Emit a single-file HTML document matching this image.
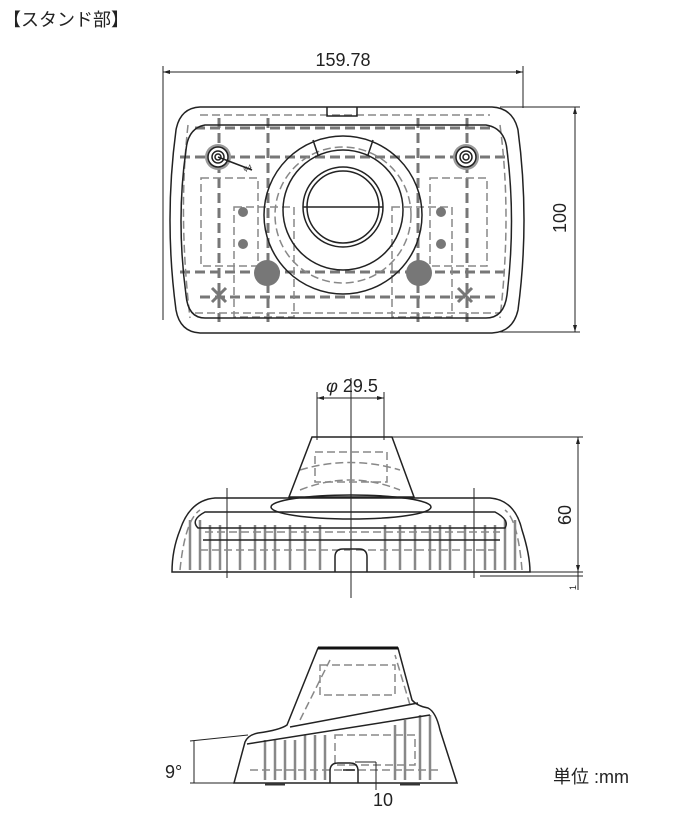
<!DOCTYPE html>
<html><head><meta charset="utf-8"><style>
html,body{margin:0;padding:0;background:#fff;}
svg{display:block;}
text{font-family:"Liberation Sans","Noto Sans CJK JP",sans-serif;fill:#222;}
</style></head><body>
<svg width="679" height="817" viewBox="0 0 679 817" xmlns="http://www.w3.org/2000/svg">
<text x="3" y="26" font-size="18">【スタンド部】</text>

<!-- ===== TOP VIEW ===== -->
<g fill="none" stroke="#222" stroke-width="1">
  <line x1="163" y1="66" x2="163" y2="320"/>
  <line x1="523" y1="66" x2="523" y2="108"/>
  <line x1="163" y1="72" x2="523" y2="72"/>
  <line x1="500" y1="107" x2="580" y2="107"/>
  <line x1="500" y1="332" x2="580" y2="332"/>
  <line x1="575" y1="107" x2="575" y2="332"/>
</g>
<path d="M163 72 l7 -2 v4z M523 72 l-7 -2 v4z M575 107 l-2 7 h4z M575 332 l-2 -7 h4z" fill="#222"/>
<text x="343" y="66" font-size="18" text-anchor="middle">159.78</text>
<text x="0" y="0" font-size="18" text-anchor="middle" transform="translate(566 218) rotate(-90)">100</text>

<g fill="none" stroke="#777" stroke-width="3" stroke-dasharray="10 5">
  <line x1="180" y1="157" x2="508" y2="157"/>
  <line x1="180" y1="272" x2="508" y2="272"/>
  <line x1="200" y1="297" x2="500" y2="297"/>
  <line x1="195" y1="128" x2="495" y2="128"/>
  <line x1="268" y1="118" x2="268" y2="322"/>
  <line x1="418" y1="118" x2="418" y2="322"/>
  <line x1="219" y1="118" x2="219" y2="322"/>
  <line x1="467" y1="118" x2="467" y2="322"/>
</g>
<g fill="none" stroke="#888" stroke-width="1.5" stroke-dasharray="8 4">
  <rect x="201" y="178" width="57" height="88"/>
  <rect x="430" y="178" width="57" height="88"/>
  <rect x="234" y="207" width="60" height="110"/>
  <rect x="392" y="207" width="60" height="110"/>
  <path d="M188 125 Q178 215 190 318 M500 125 Q512 215 500 318"/>
  <line x1="195" y1="313" x2="500" y2="313"/>
  <line x1="200" y1="115" x2="490" y2="115"/>
  <circle cx="343" cy="215" r="68"/>
</g>
<g fill="#777">
  <circle cx="267" cy="273" r="13"/><circle cx="419" cy="273" r="13"/>
  <circle cx="243" cy="212" r="5"/><circle cx="243" cy="244" r="5"/>
  <circle cx="441" cy="212" r="5"/><circle cx="441" cy="244" r="5"/>
  <circle cx="218" cy="157" r="13" fill="#999"/><circle cx="466" cy="157" r="13" fill="#999"/>
</g>
<g stroke="#777" stroke-width="3"><path d="M212 288 l14 14 M226 288 l-14 14 M458 288 l14 14 M472 288 l-14 14"/></g>
<g fill="none" stroke="#222" stroke-width="1.5">
  <path d="M200 107 H492 Q513 108 518 130 Q530 220 518 310 Q513 332 492 333 H200 Q180 332 176 310 Q164 220 176 130 Q180 108 200 107Z"/>
  <path d="M205 125 H486 Q505 128 507 150 Q516 220 507 295 Q504 318 486 318 H205 Q188 318 186 295 Q176 220 186 150 Q188 128 205 125Z"/>
  <path d="M327 107 v9 h30 v-9"/>
  <circle cx="343" cy="215" r="79"/>
  <circle cx="343" cy="210" r="60"/>
  <circle cx="343" cy="207" r="40"/>
  <circle cx="343" cy="207" r="36"/>
  <line x1="303" y1="207" x2="383" y2="207"/>
  <path d="M313 140 l5 15 M373 140 l-5 15"/>
  <circle cx="218" cy="157" r="10" fill="#fff"/><circle cx="218" cy="157" r="6"/><circle cx="218" cy="157" r="3"/>
  <circle cx="466" cy="157" r="10" fill="#fff"/><circle cx="466" cy="157" r="6"/><circle cx="466" cy="157" r="3"/>
  <line x1="218" y1="157" x2="252" y2="170"/>
</g>
<text x="244" y="171" font-size="7" transform="rotate(-15 244 171)">φ4</text>

<!-- ===== FRONT VIEW ===== -->
<g fill="none" stroke="#222" stroke-width="1">
  <line x1="351" y1="378" x2="351" y2="598"/>
  <line x1="317" y1="392" x2="317" y2="440"/>
  <line x1="384" y1="392" x2="384" y2="440"/>
  <line x1="317" y1="398" x2="384" y2="398"/>
  <line x1="392" y1="437" x2="583" y2="437"/>
  <line x1="480" y1="572" x2="583" y2="572"/>
  <line x1="480" y1="576" x2="583" y2="576"/>
  <line x1="578" y1="437" x2="578" y2="590"/>
  <line x1="227" y1="488" x2="227" y2="578"/>
  <line x1="474" y1="488" x2="474" y2="578"/>
</g>
<path d="M317 398 l7 -2 v4z M384 398 l-7 -2 v4z M578 437 l-2 7 h4z M578 572 l-2 -7 h4z" fill="#222"/>
<text x="352" y="392" font-size="18" text-anchor="middle"><tspan font-style="italic">φ</tspan> 29.5</text>
<text x="0" y="0" font-size="18" text-anchor="middle" transform="translate(571 515) rotate(-90)">60</text>
<text x="0" y="0" font-size="9" transform="translate(576 590) rotate(-90)">1</text>
<g fill="none" stroke="#888" stroke-width="1.5" stroke-dasharray="8 4">
  <rect x="315" y="452" width="72" height="30"/>
  <line x1="205" y1="532" x2="500" y2="532"/>
  <line x1="200" y1="550" x2="500" y2="550"/>
  <path d="M180 570 Q185 520 200 510 M522 570 Q518 520 505 510"/>
  <path d="M300 490 Q350 470 400 490"/>
  <path d="M300 470 Q350 455 400 470"/>
</g>
<g stroke="#888" stroke-width="2.5">
  <path d="M190 520v50M200 520v50M210 525v45M220 525v45M240 525v45M255 525v45M265 525v45M275 525v45M290 525v45M305 525v45M320 525v45M385 525v45M400 525v45M415 525v45M430 525v45M440 525v45M450 525v45M465 525v45M485 525v45M495 525v45M505 520v50M515 520v50"/>
</g>
<g fill="none" stroke="#222" stroke-width="1.5">
  <path d="M312 437 H392 L414 497 H289 Z"/>
  <path d="M215 498 H490 Q515 500 522 530 Q530 555 530 572 H172 Q172 550 180 530 Q190 500 215 498Z"/>
  <path d="M198 528 Q190 520 205 512 H495 Q510 520 505 528 Z"/>
  <path d="M203 540 H500"/>
  <ellipse cx="351" cy="507" rx="80" ry="12"/>
  <path d="M335 572 v-15 q0 -8 8 -8 h16 q8 0 8 8 v15"/>
</g>

<!-- ===== SIDE VIEW ===== -->
<g fill="none" stroke="#888" stroke-width="1.5" stroke-dasharray="8 4">
  <rect x="320" y="665" width="75" height="30"/>
  <rect x="335" y="735" width="80" height="30"/>
  <line x1="250" y1="770" x2="440" y2="770"/>
  <path d="M300 720 L330 660 M410 705 L395 655"/>
</g>
<g stroke="#888" stroke-width="2.5">
  <path d="M265 740v40M275 740v40M285 740v40M295 740v40M305 735v45M315 735v45M325 735v45M395 725v55M405 720v60M420 715v65M430 715v65"/>
</g>
<g fill="none" stroke="#222" stroke-width="1.5">
  <path d="M318 648 H398 L412 700 Q417 706 428 708 Q436 712 440 730 L457 783 H234 L245 742 Q248 735 258 733 Q280 730 287 725 Z"/>
  <path d="M247 744 L430 715"/>
  <path d="M290 727 L418 703"/>
  <path d="M330 783 v-12 q0 -8 8 -8 h12 q8 0 8 8 v12"/>
  <line x1="343" y1="770" x2="355" y2="770"/>
</g>
<path d="M318 648 H398" stroke="#111" stroke-width="3"/>
<path d="M265 784 h20 M400 784 h20" stroke="#333" stroke-width="3"/>
<g fill="none" stroke="#222" stroke-width="1">
  <line x1="190" y1="741" x2="248" y2="735"/>
  <line x1="190" y1="783" x2="250" y2="783"/>
  <line x1="194" y1="741" x2="194" y2="783"/>
  <line x1="376" y1="762" x2="376" y2="790"/>
  <line x1="355" y1="762" x2="376" y2="762"/>
</g>
<text x="165" y="778" font-size="18">9°</text>
<text x="383" y="806" font-size="18" text-anchor="middle">10</text>
<text x="553" y="783" font-size="18">単位 :mm</text>
</svg>
</body></html>
